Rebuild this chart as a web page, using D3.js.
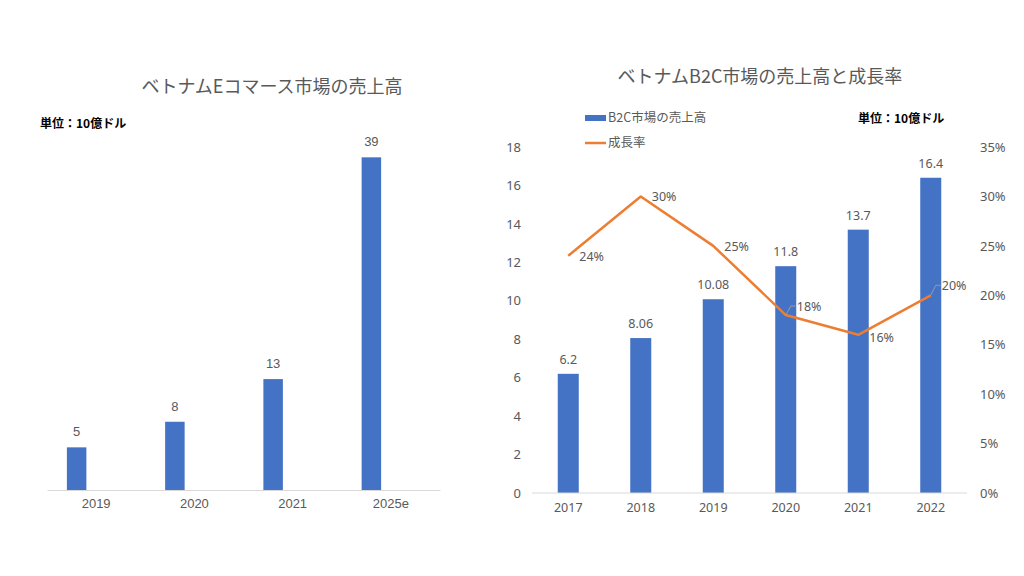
<!DOCTYPE html>
<html><head><meta charset="utf-8">
<script src="https://cdn.jsdelivr.net/npm/d3@7"></script>
<style>body{margin:0;background:#fff}svg{display:block}</style>
</head><body>
<svg id="c" width="1024" height="576"></svg>
<script>
// Left chart data
const ecCategories = ["2019", "2020", "2021", "2025e"];
const ecValues = [5, 8, 13, 39];
// Right chart data
const b2cCategories = ["2017", "2018", "2019", "2020", "2021", "2022"];
const b2cValues = [6.2, 8.06, 10.08, 11.8, 13.7, 16.4];
const b2cGrowth = [0.24, 0.30, 0.25, 0.18, 0.16, 0.20];
const leftTicks = [0, 2, 4, 6, 8, 10, 12, 14, 16, 18];
const rightTicks = [0, 0.05, 0.10, 0.15, 0.20, 0.25, 0.30, 0.35];

const BLUE = "#4472C4", ORANGE = "#ED7D31", GRAY = "#595959", AXIS = "#D9D9D9";
const JP = "'Noto Sans CJK JP', 'Noto Sans', sans-serif";
const svg = d3.select("#c");

// ---------- Left chart ----------
{
  const x = d3.scaleBand().domain(ecCategories).range([47, 440]);
  const x1 = d3.scaleBand().domain(["sales", "blank1", "blank2"]).range([0, x.bandwidth()]).paddingInner(0).paddingOuter(1.02);
  const y = d3.scaleLinear().domain([0, 40]).range([490, 490 - 40 * 8.53]);
  const g = svg.append("g");
  g.append("text").attr("x", 272).attr("y", 93).attr("text-anchor", "middle")
    .attr("font-family", JP).attr("font-size", 18).attr("fill", GRAY).text("ベトナムEコマース市場の売上高");
  g.append("text").attr("x", 40).attr("y", 128).attr("font-family", JP).attr("font-size", 12)
    .attr("font-weight", "bold").attr("fill", "#000").text("単位：10億ドル");
  g.selectAll("rect").data(ecValues).join("rect")
    .attr("x", (d, i) => x(ecCategories[i]) + x1("sales"))
    .attr("width", x1.bandwidth())
    .attr("y", d => y(d)).attr("height", d => y(0) - y(d)).attr("fill", BLUE);
  g.selectAll("text.val").data(ecValues).join("text").attr("class", "val")
    .attr("x", (d, i) => x(ecCategories[i]) + x1("sales") + x1.bandwidth() / 2)
    .attr("y", d => y(d) - 11).attr("text-anchor", "middle")
    .attr("font-family", "'Liberation Sans', Arial, sans-serif").attr("font-size", 13).attr("fill", GRAY)
    .text(d => d);
  const ax = g.append("g").attr("transform", `translate(0,${y(0)})`)
    .call(d3.axisBottom(x).tickSize(0).tickPadding(9));
  ax.select(".domain").attr("stroke", AXIS);
  ax.selectAll("text").attr("font-family", "'Liberation Sans', Arial, sans-serif").attr("font-size", 13).attr("fill", GRAY);
}

// ---------- Right chart ----------
{
  const x = d3.scaleBand().domain(b2cCategories).range([532, 967]).paddingInner(0.71).paddingOuter(0.355);
  const y = d3.scaleLinear().domain([0, 18]).range([493, 147]);
  const y2 = d3.scaleLinear().domain([0, 0.35]).range([493, 147]);
  const g = svg.append("g");
  const cx = d => x(d) + x.bandwidth() / 2;
  g.append("text").attr("x", 760).attr("y", 83).attr("text-anchor", "middle")
    .attr("font-family", JP).attr("font-size", 18).attr("fill", GRAY).text("ベトナムB2C市場の売上高と成長率");
  // legend
  g.append("rect").attr("x", 585).attr("y", 115).attr("width", 21).attr("height", 6).attr("fill", BLUE);
  g.append("text").attr("x", 608).attr("y", 122).attr("font-family", JP).attr("font-size", 12.5).attr("fill", GRAY).text("B2C市場の売上高");
  g.append("line").attr("x1", 585).attr("x2", 606).attr("y1", 143).attr("y2", 143).attr("stroke", ORANGE).attr("stroke-width", 2.5);
  g.append("text").attr("x", 608).attr("y", 147).attr("font-family", JP).attr("font-size", 12.5).attr("fill", GRAY).text("成長率");
  g.append("text").attr("x", 858).attr("y", 123).attr("font-family", JP).attr("font-size", 12)
    .attr("font-weight", "bold").attr("fill", "#000").text("単位：10億ドル");

  g.selectAll("rect.bar").data(b2cValues).join("rect").attr("class", "bar")
    .attr("x", (d, i) => x(b2cCategories[i])).attr("width", x.bandwidth())
    .attr("y", d => y(d)).attr("height", d => y(0) - y(d)).attr("fill", BLUE);
  g.selectAll("text.val").data(b2cValues).join("text").attr("class", "val")
    .attr("x", (d, i) => cx(b2cCategories[i])).attr("y", d => y(d) - 10)
    .attr("text-anchor", "middle").attr("font-family", "'Noto Sans', sans-serif").attr("font-size", 12.5).attr("fill", GRAY)
    .text(d => d);

  const ax = g.append("g").attr("transform", `translate(0,${y(0)})`)
    .call(d3.axisBottom(x).tickSize(0).tickPadding(10));
  ax.select(".domain").attr("stroke", AXIS).attr("d", "M532,0H967");
  ax.selectAll("text").attr("font-family", "'Noto Sans', sans-serif").attr("font-size", 12.5).attr("fill", GRAY);

  const ayl = g.append("g").attr("transform", "translate(521,0)")
    .call(d3.axisLeft(y).tickValues(leftTicks).tickSize(0).tickPadding(0));
  ayl.select(".domain").remove();
  ayl.selectAll("text").attr("font-family", "'Noto Sans', sans-serif").attr("font-size", 13).attr("fill", GRAY);

  const ayr = g.append("g").attr("transform", "translate(980,0)")
    .call(d3.axisRight(y2).tickValues(rightTicks).tickSize(0).tickPadding(0).tickFormat(d3.format(".0%")));
  ayr.select(".domain").remove();
  ayr.selectAll("text").attr("font-family", "'Noto Sans', sans-serif").attr("font-size", 13).attr("fill", GRAY);

  const line = d3.line().x((d, i) => cx(b2cCategories[i])).y(d => y2(d));
  g.append("path").datum(b2cGrowth).attr("d", line).attr("fill", "none")
    .attr("stroke", ORANGE).attr("stroke-width", 2.5).attr("stroke-linejoin", "round");

  // label nudges (vertical) for crowded labels
  const nudge = { "2017": 1, "2018": 0, "2019": 1, "2020": -9, "2021": 3, "2022": -10 };
  const leader = { "2020": true, "2022": true };
  b2cGrowth.forEach((d, i) => {
    const c = b2cCategories[i];
    const px = cx(c), py = y2(d);
    const lx = px + 11, ly = py + nudge[c];
    if (leader[c]) {
      g.append("path").attr("d", `M${px},${py}L${px + 5},${ly}L${lx - 1},${ly}`)
        .attr("fill", "none").attr("stroke", "#A6A6A6").attr("stroke-width", 0.8);
    }
    g.append("text").attr("x", lx).attr("y", ly + 4.5)
      .attr("font-family", "'Noto Sans', sans-serif").attr("font-size", 12.5).attr("fill", GRAY)
      .text(d3.format(".0%")(d));
  });
}
</script>
</body></html>
